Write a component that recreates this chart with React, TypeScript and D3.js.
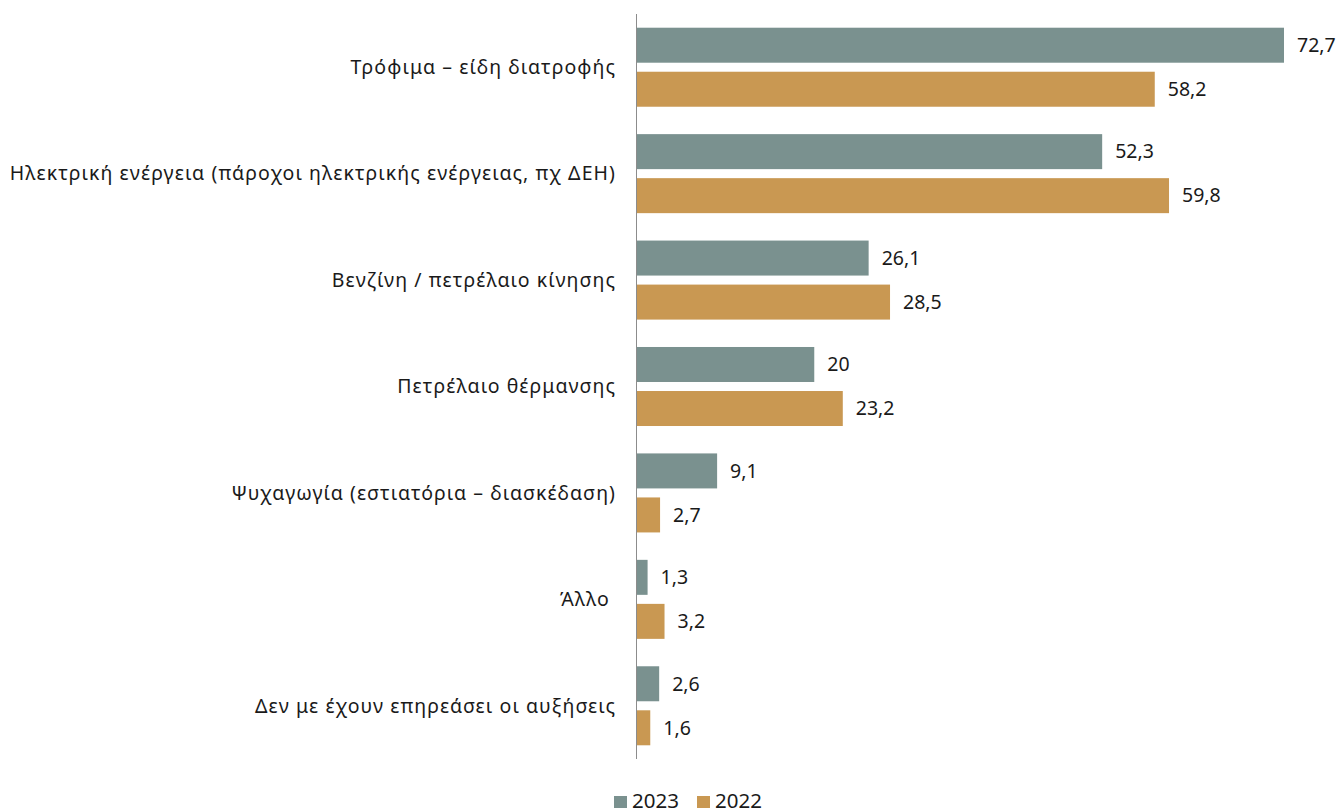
import { useEffect, useRef } from "react"
import * as d3 from "d3"

const categories = [
    "Τρόφιμα – είδη διατροφής",
    "Ηλεκτρική ενέργεια (πάροχοι ηλεκτρικής ενέργειας, πχ ΔΕΗ)",
    "Βενζίνη / πετρέλαιο κίνησης",
    "Πετρέλαιο θέρμανσης",
    "Ψυχαγωγία (εστιατόρια – διασκέδαση)",
    "Άλλο ",
    "Δεν με έχουν επηρεάσει οι αυξήσεις",
]
const values2023 = [72.7, 52.3, 26.1, 20, 9.1, 1.3, 2.6]
const values2022 = [58.2, 59.8, 28.5, 23.2, 2.7, 3.2, 1.6]
const seriesNames = ["2023", "2022"]
const colors = ["#7a918f", "#c99852"]

const FONT = "'Noto Sans', sans-serif"

export default function App() {
    const ref = useRef<SVGSVGElement | null>(null)

    useEffect(() => {
        const svg = d3.select(ref.current)
        svg.selectAll("*").remove()

        const x0 = 636

        const x = d3.scaleLinear().domain([0, 72.7]).range([x0, 1284])
        const y = d3.scaleBand<string>()
            .domain(categories)
            .range([14, 759])
            .paddingInner(0.2575)
            .paddingOuter(0.1288)
        const sub = d3.scaleBand<string>()
            .domain(seriesNames)
            .range([0, y.bandwidth()])
            .paddingInner(0.205)

        const rows = categories.map((c, i) => ({ c, vals: [values2023[i], values2022[i]] }))

        const g = svg.append("g")
        rows.forEach(r => {
            r.vals.forEach((v, j) => {
                const top = (y(r.c) ?? 0) + (sub(seriesNames[j]) ?? 0)
                g.append("rect")
                    .attr("x", x0)
                    .attr("y", top)
                    .attr("width", x(v) - x0)
                    .attr("height", sub.bandwidth())
                    .attr("fill", colors[j])
                g.append("text")
                    .attr("x", x(v) + 13)
                    .attr("y", top + sub.bandwidth() / 2)
                    .attr("dy", "0.35em")
                    .attr("font-family", FONT)
                    .attr("font-size", 19.5)
                    .attr("fill", "#1a1a1a")
                    .text(String(v).replace(".", ","))
            })
            g.append("text")
                .attr("x", 616)
                .attr("y", (y(r.c) ?? 0) + y.bandwidth() / 2)
                .attr("dy", "0.35em")
                .attr("text-anchor", "end")
                .attr("font-family", FONT)
                .attr("font-size", 19.5)
                .attr("letter-spacing", 1.07)
                .attr("fill", "#1a1a1a")
                .style("white-space", "pre")
                .text(r.c)
        })

        svg.append("line")
            .attr("x1", x0 + 0.5)
            .attr("x2", x0 + 0.5)
            .attr("y1", 14)
            .attr("y2", 759)
            .attr("stroke", "#8c8c8c")
            .attr("stroke-width", 1)

        const legend = svg.append("g")
        const legendX = [614, 697]
        seriesNames.forEach((s, j) => {
            legend.append("rect")
                .attr("x", legendX[j])
                .attr("y", 796)
                .attr("width", 13)
                .attr("height", 12)
                .attr("fill", colors[j])
            legend.append("text")
                .attr("x", legendX[j] + 18)
                .attr("y", 808)
                .attr("font-family", FONT)
                .attr("font-size", 20.5)
                .attr("fill", "#1a1a1a")
                .text(s)
        })
    }, [])

    return (
        <div style={{ position: "absolute", left: 0, top: 0, width: 1338, height: 809, background: "#fff" }}>
            <svg ref={ref} width={1338} height={809} style={{ display: "block" }} />
        </div>
    )
}
